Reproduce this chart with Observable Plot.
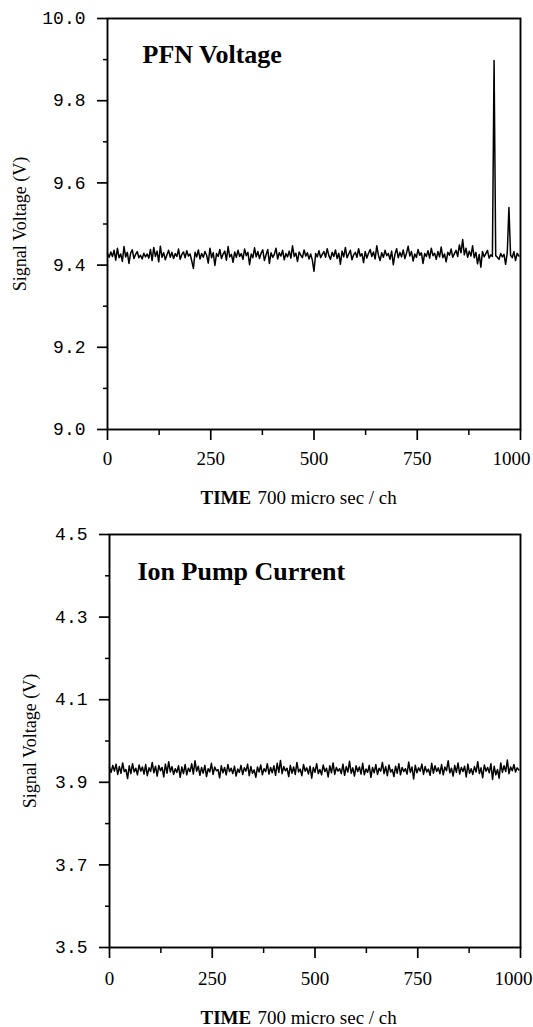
<!DOCTYPE html>
<html><head><meta charset="utf-8">
<script src="https://cdn.jsdelivr.net/npm/d3@7"></script>
<script src="https://cdn.jsdelivr.net/npm/@observablehq/plot@0.6"></script>
<style>body{margin:0;background:#fff} #chart svg{display:block;background:#fff}</style>
</head><body><div id="chart"></div>
<script>
// channel index (every 4th channel of 1000)
const channels = d3.range(0, 1000, 4);

const pfnVoltage = [
9.428,9.419,9.432,9.421,9.436,9.412,9.441,9.418,9.427,9.409,
9.445,9.420,9.431,9.404,9.429,9.437,9.416,9.426,9.433,9.418,
9.424,9.415,9.429,9.420,9.427,9.417,9.438,9.411,9.443,9.421,
9.434,9.408,9.446,9.419,9.430,9.413,9.425,9.436,9.419,9.431,
9.416,9.428,9.421,9.439,9.414,9.426,9.432,9.418,9.435,9.422,
9.427,9.410,9.392,9.431,9.420,9.437,9.415,9.428,9.419,9.433,
9.424,9.405,9.441,9.418,9.430,9.399,9.428,9.421,9.438,9.416,
9.427,9.434,9.412,9.445,9.420,9.426,9.407,9.432,9.419,9.436,
9.421,9.428,9.414,9.439,9.423,9.431,9.401,9.427,9.418,9.442,
9.420,9.433,9.416,9.429,9.437,9.411,9.425,9.438,9.404,9.430,
9.419,9.426,9.441,9.415,9.430,9.422,9.436,9.413,9.428,9.420,
9.434,9.417,9.447,9.421,9.429,9.409,9.432,9.424,9.418,9.437,
9.422,9.430,9.415,9.427,9.412,9.385,9.428,9.420,9.435,9.418,
9.426,9.433,9.419,9.440,9.423,9.414,9.431,9.421,9.437,9.416,
9.429,9.402,9.434,9.420,9.443,9.418,9.427,9.436,9.413,9.425,
9.431,9.419,9.440,9.422,9.428,9.406,9.433,9.417,9.429,9.438,
9.421,9.432,9.415,9.447,9.424,9.411,9.430,9.419,9.436,9.423,
9.428,9.414,9.434,9.401,9.426,9.440,9.418,9.431,9.420,9.437,
9.416,9.429,9.446,9.422,9.433,9.410,9.427,9.419,9.438,9.424,
9.430,9.404,9.428,9.421,9.435,9.417,9.441,9.423,9.429,9.414,
9.433,9.420,9.444,9.418,9.427,9.408,9.431,9.424,9.439,9.419,
9.428,9.436,9.421,9.449,9.430,9.462,9.425,9.441,9.419,9.434,
9.422,9.447,9.418,9.431,9.403,9.426,9.395,9.433,9.420,9.428,
9.436,9.417,9.425,9.421,9.898,9.423,9.419,9.414,9.428,9.420,
9.426,9.402,9.431,9.540,9.424,9.418,9.433,9.411,9.429,9.422
];

const ionPumpVoltage = [
3.936,3.924,3.941,3.927,3.944,3.919,3.938,3.922,3.947,3.926,
3.931,3.909,3.940,3.921,3.945,3.925,3.934,3.918,3.942,3.927,
3.937,3.920,3.943,3.916,3.935,3.926,3.948,3.923,3.939,3.915,
3.941,3.928,3.936,3.913,3.944,3.922,3.950,3.925,3.938,3.919,
3.933,3.924,3.940,3.912,3.937,3.921,3.943,3.918,3.934,3.926,
3.945,3.920,3.952,3.927,3.939,3.917,3.936,3.922,3.941,3.914,
3.933,3.925,3.946,3.919,3.937,3.928,3.931,3.911,3.940,3.923,
3.936,3.918,3.943,3.926,3.934,3.921,3.939,3.915,3.932,3.924,
3.941,3.919,3.935,3.927,3.944,3.916,3.938,3.922,3.930,3.912,
3.937,3.925,3.942,3.918,3.933,3.926,3.945,3.920,3.936,3.923,
3.940,3.917,3.946,3.924,3.953,3.921,3.938,3.928,3.934,3.914,
3.941,3.922,3.937,3.919,3.948,3.925,3.932,3.916,3.943,3.927,
3.935,3.920,3.939,3.910,3.936,3.924,3.945,3.921,3.931,3.918,
3.942,3.926,3.934,3.913,3.940,3.923,3.947,3.919,3.936,3.927,
3.933,3.921,3.944,3.917,3.938,3.925,3.951,3.922,3.935,3.915,
3.940,3.926,3.937,3.920,3.946,3.918,3.932,3.924,3.941,3.912,
3.936,3.923,3.943,3.919,3.934,3.927,3.948,3.921,3.938,3.916,
3.942,3.925,3.931,3.914,3.939,3.922,3.945,3.918,3.936,3.926,
3.933,3.920,3.949,3.924,3.937,3.908,3.941,3.923,3.935,3.927,
3.944,3.919,3.938,3.925,3.932,3.917,3.946,3.922,3.940,3.926,
3.935,3.921,3.943,3.918,3.937,3.928,3.952,3.923,3.934,3.915,
3.941,3.924,3.947,3.920,3.936,3.926,3.939,3.913,3.944,3.922,
3.933,3.919,3.938,3.925,3.950,3.921,3.935,3.911,3.942,3.927,
3.936,3.923,3.945,3.907,3.939,3.918,3.931,3.910,3.947,3.924,
3.940,3.926,3.954,3.921,3.937,3.928,3.943,3.925,3.935,3.930
];

const xTicks = [0, 250, 500, 750, 1000];
const xMinorTicks = [125, 375, 625, 875];
const pfnYTicks = [9.0, 9.2, 9.4, 9.6, 9.8, 10.0];
const pfnYMinor = [9.1, 9.3, 9.5, 9.7, 9.9];
const ionYTicks = [3.5, 3.7, 3.9, 4.1, 4.3, 4.5];
const ionYMinor = [3.6, 3.8, 4.0, 4.2, 4.4];

const titles = ["PFN Voltage", "Ion Pump Current"];
const yLabel = "Signal Voltage (V)";
const xLabelBold = "TIME";
const xLabelRest = "700 micro sec / ch";

function panel(o) {
  const xText = {tickSize: 0, tickPadding: 11 + o.xpad, fontFamily: "Liberation Serif", fontSize: 19,
    tickFormat: d3.format("d"), label: null};
  return Plot.plot({
    width: 533,
    height: o.height,
    marginTop: o.mt, marginBottom: o.mb, marginLeft: o.ml, marginRight: 13,
    style: {fontFamily: "Liberation Serif", color: "black", background: "white"},
    x: {domain: [0, 1000]},
    y: {domain: o.yDomain},
    marks: [
      Plot.frame({stroke: "black", strokeWidth: 1.9}),
      Plot.lineY(o.values, {x: (d, i) => channels[i], y: d => d, stroke: "black", strokeWidth: 1.5}),
      Plot.axisY(o.yTicks, {tickSize: 10, tickPadding: 12, strokeWidth: 1.7, tickFormat: d3.format(".1f"),
        fontFamily: "Liberation Mono", fontSize: 18, label: null}),
      Plot.axisY(o.yMinor, {tickSize: 4, strokeWidth: 1.5, tickFormat: () => "", label: null}),
      Plot.axisX(xTicks, {tickSize: 11, strokeWidth: 1.7, tickFormat: () => "", label: null}),
      Plot.axisX(xMinorTicks, {tickSize: 6, strokeWidth: 1.5, tickFormat: () => "", label: null}),
      Plot.axisX(xTicks.slice(0, -1), xText),
      Plot.axisX(xTicks.slice(-1), {...xText, dx: o.lastDx}),
      Plot.text([o.title], {text: d => d, frameAnchor: "top-left", dx: o.tdx, dy: o.tdy, lineAnchor: "top",
        fontFamily: "Liberation Serif", fontWeight: "bold", fontSize: 26, fill: "black"}),
      Plot.text([yLabel], {text: d => d, frameAnchor: "left", rotate: -90, dx: o.ydx, lineAnchor: "middle",
        textAnchor: "middle", fontFamily: "Liberation Serif", fontSize: 18, fill: "black"}),
      Plot.text([xLabelBold], {text: d => d, frameAnchor: "bottom", textAnchor: "start", dx: 200 - o.cx, dy: o.xldy,
        lineAnchor: "middle", fontFamily: "Liberation Serif", fontWeight: "bold", fontSize: 19, fill: "black"}),
      Plot.text([xLabelRest], {text: d => d, frameAnchor: "bottom", textAnchor: "start", dx: 257 - o.cx, dy: o.xldy,
        lineAnchor: "middle", fontFamily: "Liberation Serif", fontSize: 19, fill: "black"})
    ]
  });
}

const chart = document.getElementById("chart");
chart.append(panel({
  height: 515, mt: 18, mb: 86, ml: 107, yDomain: [9.0, 10.0], values: pfnVoltage,
  yTicks: pfnYTicks, yMinor: pfnYMinor, title: titles[0], tdx: 35, tdy: 26, ydx: -87,
  xpad: 11, cx: (107 + 520) / 2, xldy: 68, lastDx: -9
}));
chart.append(panel({
  height: 512, mt: 19, mb: 80, ml: 109, yDomain: [3.5, 4.5], values: ionPumpVoltage,
  yTicks: ionYTicks, yMinor: ionYMinor, title: titles[1], tdx: 28, tdy: 27, ydx: -79,
  xpad: 13, cx: (109 + 520) / 2, xldy: 70, lastDx: -7
}));
</script>
</body></html>
